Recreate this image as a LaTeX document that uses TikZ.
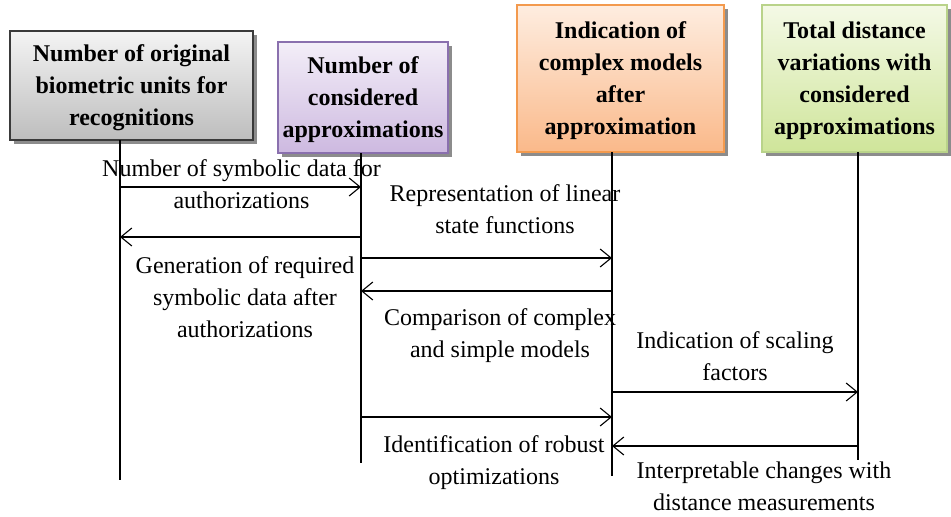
\documentclass[tikz,border=0pt]{standalone}
\usepackage{fontspec}
\setmainfont{Liberation Serif}
\usetikzlibrary{arrows.meta,shadows}

\definecolor{grayTop}{HTML}{F4F4F4}
\definecolor{grayBot}{HTML}{BDBDBD}
\definecolor{grayLine}{HTML}{3A3A3A}
\definecolor{purTop}{HTML}{F3EEF8}
\definecolor{purBot}{HTML}{CDB9E0}
\definecolor{purLine}{HTML}{8A70AE}
\definecolor{orTop}{HTML}{FEEDE0}
\definecolor{orBot}{HTML}{FAB98A}
\definecolor{orLine}{HTML}{F39A4E}
\definecolor{grTop}{HTML}{F4F9E6}
\definecolor{grBot}{HTML}{CFE59A}
\definecolor{grLine}{HTML}{B9D38A}

\tikzset{
  actor/.style={draw, line width=1.3pt, align=center, inner sep=0pt,
    text depth=-2pt,
    font=\fontsize{24}{32}\selectfont\bfseries,
    drop shadow={shadow xshift=4pt, shadow yshift=-4pt, fill=black!45, opacity=1}},
  lifeline/.style={line width=1.2pt},
  msg/.style={line width=1.2pt, -{Straight Barb[length=11pt, width=18pt, line width=1.1pt]}},
  lbl/.style={align=center, inner sep=0pt, font=\fontsize{24}{32}\selectfont}
}

\begin{document}
\begin{tikzpicture}[x=1pt,y=-1pt]
\useasboundingbox (0,0) rectangle (951,517);

% participant boxes
\node[actor, draw=grayLine, top color=grayTop, bottom color=grayBot,
      minimum width=243pt, minimum height=109pt] (b1) at (131.5,85.5)
  {Number of original\\biometric units for\\recognitions};
\node[actor, draw=purLine, top color=purTop, bottom color=purBot,
      minimum width=170pt, minimum height=111pt] (b2) at (363,97.5)
  {Number of\\considered\\approximations};
\node[actor, draw=orLine, top color=orTop, bottom color=orBot,
      minimum width=207pt, minimum height=147pt] (b3) at (620.5,78.5)
  {Indication of\\complex models\\after\\approximation};
\node[actor, draw=grLine, top color=grTop, bottom color=grBot,
      minimum width=185pt, minimum height=147pt] (b4) at (854.5,78.5)
  {Total distance\\variations with\\considered\\approximations};

% lifelines
\coordinate (t1) at (120,140);  \coordinate (e1) at (120,480);
\coordinate (t2) at (361,153);  \coordinate (e2) at (361,463);
\coordinate (t3) at (612,152);  \coordinate (e3) at (612,476);
\coordinate (t4) at (858,152);  \coordinate (e4) at (858,460);
\draw[lifeline] (t1) -- (e1);
\draw[lifeline] (t2) -- (e2);
\draw[lifeline] (t3) -- (e3);
\draw[lifeline] (t4) -- (e4);

% messages
\draw[msg] (t1 |- 0,187) -- (t2 |- 0,187);
\draw[msg] (t2 |- 0,237) -- (t1 |- 0,237);
\draw[msg] (t2 |- 0,258) -- (t3 |- 0,258);
\draw[msg] (t3 |- 0,291) -- (t2 |- 0,291);
\draw[msg] (t3 |- 0,392) -- (t4 |- 0,392);
\draw[msg] (t2 |- 0,417) -- (t3 |- 0,417);
\draw[msg] (t4 |- 0,446) -- (t3 |- 0,446);

% message labels
\node[lbl] (l1) at (241.5,184) {Number of symbolic data for\\authorizations};
\node[lbl] (l2) at (245,297.5) {Generation of required\\symbolic data after\\authorizations};
\node[lbl] (l3) at (505,209.5) {Representation of linear\\state functions};
\node[lbl] (l4) at (500,335.5) {Comparison of complex\\and simple models};
\node[lbl] (l5) at (735,356.5) {Indication of scaling\\factors};
\node[lbl] (l6) at (494,463) {Identification of robust\\optimizations};
\node[lbl] (l7) at (764,486.5) {Interpretable changes with\\distance measurements};
\end{tikzpicture}
\end{document}
